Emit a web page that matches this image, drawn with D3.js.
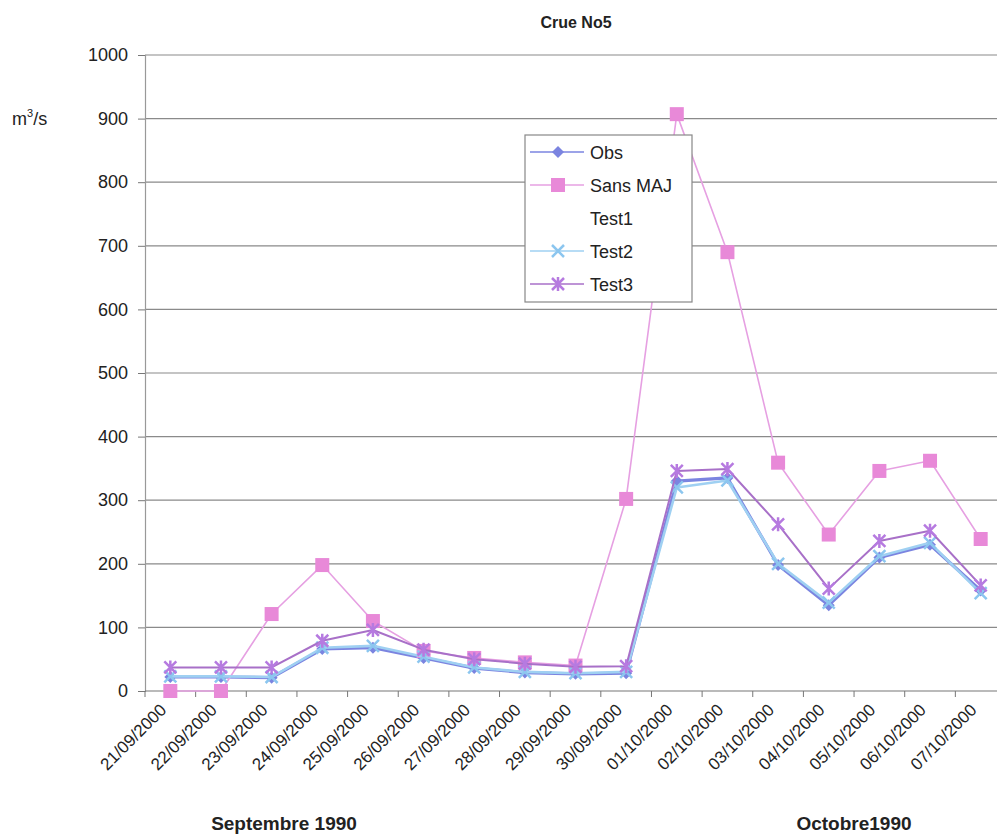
<!DOCTYPE html>
<html>
<head>
<meta charset="utf-8">
<script src="https://cdn.jsdelivr.net/npm/d3@7"></script>
<style>
  html, body { margin: 0; padding: 0; background: #fff; }
  svg { display: block; font-family: Arial, "Liberation Sans", sans-serif; }
</style>
</head>
<body>
<svg id="chart" width="997" height="836"></svg>
<script>
// Flood event No5 — daily discharge (m3/s), observed vs. model runs
const dates = ["21/09/2000","22/09/2000","23/09/2000","24/09/2000","25/09/2000","26/09/2000",
  "27/09/2000","28/09/2000","29/09/2000","30/09/2000","01/10/2000","02/10/2000","03/10/2000",
  "04/10/2000","05/10/2000","06/10/2000","07/10/2000"];
const obs     = [22, 22, 21, 66, 68, 52, 36, 29, 27, 28, 330, 335, 198, 135, 210, 230, 158];
const sansMAJ = [0, 0, 121, 198, 110, 63, 52, 45, 40, 302, 907, 690, 359, 246, 346, 362, 239];
const test1   = [];
const test2   = [23, 23, 22, 68, 71, 54, 37, 30, 28, 30, 320, 331, 200, 139, 212, 233, 154];
const test3   = [37, 37, 37, 79, 96, 65, 50, 43, 38, 39, 346, 349, 262, 161, 236, 252, 166];
const yTicks  = [0, 100, 200, 300, 400, 500, 600, 700, 800, 900, 1000];

const svg = d3.select("#chart");

const x = d3.scalePoint().domain(dates).range([145, 1006]).padding(0.5);
const step = x.step();
const y = d3.scaleLinear().domain([0, 1000]).range([691, 55]);

// gridlines
svg.append("g").selectAll("line").data(yTicks.filter(d => d > 0)).join("line")
  .attr("x1", 145).attr("x2", 997)
  .attr("y1", d => y(d)).attr("y2", d => y(d))
  .attr("stroke", "#8a8a8a").attr("stroke-width", 1.2);

// y axis
const yAxis = d3.axisLeft(y).tickValues(yTicks).tickFormat(d3.format("d")).tickSize(7).tickPadding(10);
const gy = svg.append("g").attr("transform", "translate(145,0)").call(yAxis);
gy.select(".domain").attr("stroke", "#999").attr("stroke-width", 1.2);
gy.selectAll(".tick line").attr("stroke", "#777");
gy.selectAll(".tick text").attr("font-size", 18).attr("fill", "#222")
  .attr("font-family", "Arial, 'Liberation Sans', sans-serif");

// x axis line
svg.append("line").attr("x1", 145).attr("x2", 997)
  .attr("y1", y(0)).attr("y2", y(0)).attr("stroke", "#777").attr("stroke-width", 1.2);
// tick marks between categories
svg.append("g").selectAll("line").data(dates).join("line")
  .attr("x1", d => x(d) - step / 2).attr("x2", d => x(d) - step / 2)
  .attr("y1", y(0)).attr("y2", y(0) + 6)
  .attr("stroke", "#777");

// rotated date labels
svg.append("g").selectAll("text").data(dates).join("text")
  .attr("transform", d => `translate(${x(d) - 3},${y(0) + 20}) rotate(-45)`)
  .attr("text-anchor", "end")
  .attr("font-size", 17).attr("fill", "#222")
  .text(d => d);

const series = [
  { name: "Obs",      values: obs,     stroke: "#7b84e0", width: 3.2, marker: "diamond", fill: "#7b84e0" },
  { name: "Sans MAJ", values: sansMAJ, stroke: "#e6a0e2", width: 1.6, marker: "square",  fill: "#e889d8" },
  { name: "Test1",    values: test1,   stroke: "none",    width: 0,   marker: "none",    fill: "none" },
  { name: "Test2",    values: test2,   stroke: "#9fd0f2", width: 2.6, marker: "x",       fill: "#8cc6ef" },
  { name: "Test3",    values: test3,   stroke: "#a870c8", width: 2,   marker: "star",    fill: "#b67ae0" }
];

function drawMarker(g, type, color) {
  if (type === "square") {
    g.append("rect").attr("x", -7).attr("y", -7).attr("width", 14).attr("height", 14).attr("fill", color);
  } else if (type === "diamond") {
    g.append("path").attr("d", "M0,-6L6,0L0,6L-6,0Z").attr("fill", color);
  } else if (type === "x") {
    g.append("path").attr("d", "M-6,-6L6,6M-6,6L6,-6").attr("stroke", color).attr("stroke-width", 2.5);
  } else if (type === "star") {
    g.append("path").attr("d", "M-6,-6L6,6M-6,6L6,-6M0,-7L0,7").attr("stroke", color).attr("stroke-width", 2.5);
  }
}

const line = d3.line().x((d, i) => x(dates[i])).y(d => y(d));

series.forEach(s => {
  if (!s.values.length) return;
  const g = svg.append("g");
  g.append("path").datum(s.values).attr("d", line)
    .attr("fill", "none").attr("stroke", s.stroke).attr("stroke-width", s.width)
    .attr("stroke-linejoin", "round");
  s.values.forEach((v, i) => {
    drawMarker(g.append("g").attr("transform", `translate(${x(dates[i])},${y(v)})`), s.marker, s.fill);
  });
});

// legend
const lg = svg.append("g").attr("transform", "translate(525,135)");
lg.append("rect").attr("width", 167).attr("height", 167)
  .attr("fill", "#fff").attr("stroke", "#888").attr("stroke-width", 1.2);
series.forEach((s, i) => {
  const row = lg.append("g").attr("transform", `translate(0,${17 + i * 33})`);
  if (s.stroke !== "none") {
    row.append("line").attr("x1", 5).attr("x2", 59).attr("y1", 0).attr("y2", 0)
      .attr("stroke", s.stroke).attr("stroke-width", Math.min(s.width, 1.6));
    drawMarker(row.append("g").attr("transform", "translate(33,0)"), s.marker, s.fill);
  }
  row.append("text").attr("x", 65).attr("y", 6.5).attr("font-size", 18).attr("fill", "#222").text(s.name);
});

// titles
svg.append("text").attr("x", 576).attr("y", 28).attr("text-anchor", "middle")
  .attr("font-size", 16).attr("font-weight", "bold").attr("fill", "#222").text("Crue No5");
const unit = svg.append("text").attr("x", 12).attr("y", 125).attr("font-size", 18).attr("fill", "#222");
unit.append("tspan").text("m");
unit.append("tspan").attr("dy", -8).attr("font-size", 11).text("3");
unit.append("tspan").attr("dy", 8).text("/s");

svg.append("text").attr("x", 284).attr("y", 830).attr("text-anchor", "middle")
  .attr("font-size", 19).attr("font-weight", "bold").attr("fill", "#222").text("Septembre 1990");
svg.append("text").attr("x", 854).attr("y", 830).attr("text-anchor", "middle")
  .attr("font-size", 19).attr("font-weight", "bold").attr("fill", "#222").text("Octobre1990");
</script>
</body>
</html>
